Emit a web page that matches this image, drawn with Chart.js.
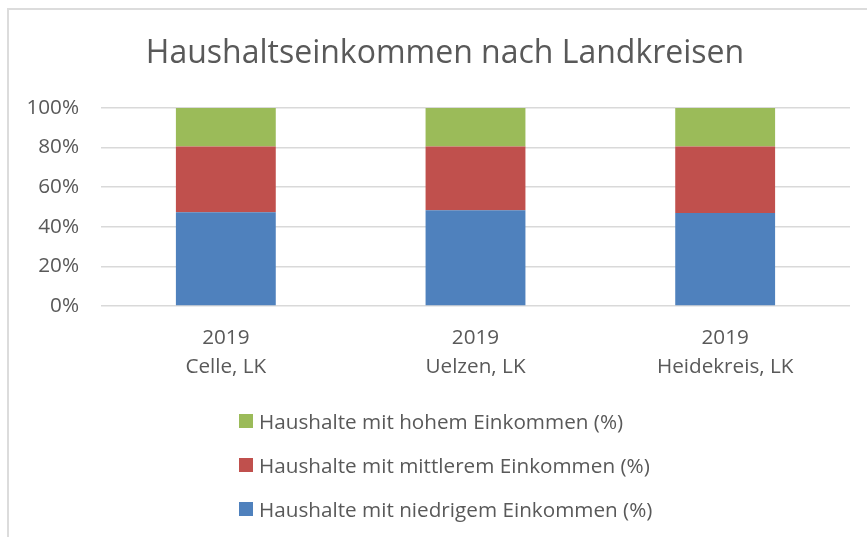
<!DOCTYPE html>
<html lang="de">
<head>
<meta charset="utf-8">
<title>Haushaltseinkommen nach Landkreisen</title>
<script src="https://cdn.jsdelivr.net/npm/chart.js@4.4.0/dist/chart.umd.min.js"></script>
<style>
  html, body { margin: 0; padding: 0; background: #fff; overflow: hidden; }
  #wrap { position: relative; width: 867px; height: 537px; }
  #frame {
    position: absolute; left: 7px; top: 8px; width: 900px; height: 600px;
    border-left: 2px solid #dcdcdc; border-top: 2px solid #dcdcdc;
  }
  canvas { position: absolute; left: 0; top: 0; }
  #legende {
    position: absolute; left: 239px; top: 0;
    font-family: "Open Sans", sans-serif; font-size: 20.7px; color: #595959;
  }
  .item { position: absolute; left: 0; white-space: nowrap; display: flex; align-items: center; }
  .box { width: 14px; height: 14px; margin-right: 6px; flex: none; }
</style>
</head>
<body>
<div id="wrap">
  <div id="frame"></div>
  <canvas id="chart" width="867" height="537"></canvas>
  <div id="legende"></div>
</div>
<script>
// Daten
const jahre      = ['2019', '2019', '2019'];
const landkreise = ['Celle, LK', 'Uelzen, LK', 'Heidekreis, LK'];
const niedrig    = [47.3, 48.3, 47.0];
const mittel     = [33.2, 32.2, 33.5];
const hoch       = [19.5, 19.5, 19.5];
const yTicks     = [0, 20, 40, 60, 80, 100];

const grau = '#595959';
const schrift = '"Open Sans", sans-serif';

const datensaetze = [
  { label: 'Haushalte mit niedrigem Einkommen (%)', data: niedrig, backgroundColor: '#4F81BD' },
  { label: 'Haushalte mit mittlerem Einkommen (%)', data: mittel,  backgroundColor: '#C0504D' },
  { label: 'Haushalte mit hohem Einkommen (%)',     data: hoch,    backgroundColor: '#9BBB59' }
];

// Titel wie im Original etwas nach rechts rücken
const titelVersatz = {
  id: 'titelVersatz',
  afterLayout(c) { if (c.titleBlock) c.titleBlock.left = 40; }
};

const chart = new Chart(document.getElementById('chart'), {
  type: 'bar',
  data: {
    labels: landkreise.map((lk, i) => [jahre[i], lk]),
    datasets: datensaetze.map(d => ({ ...d, categoryPercentage: 0.4, barPercentage: 1 }))
  },
  plugins: [titelVersatz],
  options: {
    responsive: false,
    animation: false,
    layout: { padding: { left: 0, right: 17, top: 0, bottom: 0 } },
    plugins: {
      legend: { display: false },
      tooltip: { enabled: false },
      title: {
        display: true,
        text: 'Haushaltseinkommen nach Landkreisen',
        color: grau,
        font: { family: schrift, size: 32, weight: 'normal', lineHeight: 1.2 },
        padding: { top: 35, bottom: 34.6 }
      }
    },
    scales: {
      x: {
        stacked: true,
        grid: { display: false, drawTicks: false },
        border: { display: false },
        ticks: { color: grau, padding: 18, font: { family: schrift, size: 20.7, lineHeight: 1.4 } },
        afterFit: s => { s.height = 231; }
      },
      y: {
        stacked: true,
        min: 0, max: 100,
        afterBuildTicks: s => { s.ticks = yTicks.map(v => ({ value: v })); },
        grid: { color: '#d9d9d9', lineWidth: 1.5, drawTicks: false },
        border: { display: false },
        ticks: { color: grau, padding: 22, font: { family: schrift, size: 20.7 }, callback: v => v + '%' },
        afterFit: s => { s.width = 101; }
      }
    }
  }
});

// Legende (umgekehrte Reihenfolge wie im Original)
const legendeY = [421, 465, 509];
const leg = document.getElementById('legende');
datensaetze.slice().reverse().forEach((d, i) => {
  const el = document.createElement('div');
  el.className = 'item';
  el.style.top = (legendeY[i] - 14) + 'px';
  el.style.height = '28px';
  el.innerHTML = '<span class="box" style="background:' + d.backgroundColor + '"></span><span>' + d.label + '</span>';
  leg.appendChild(el);
});
</script>
</body>
</html>
